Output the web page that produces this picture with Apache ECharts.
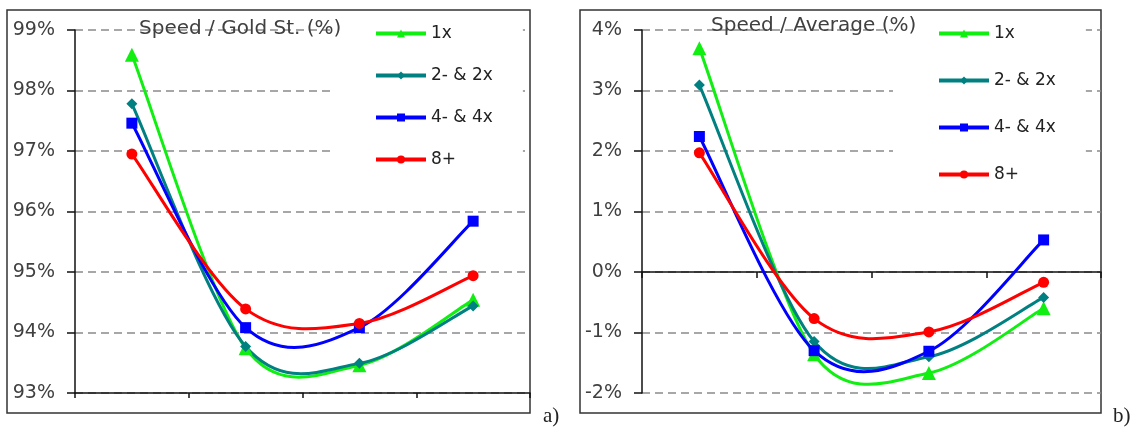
<!DOCTYPE html>
<html>
<head>
<meta charset="utf-8">
<script src="https://cdn.jsdelivr.net/npm/echarts@6/dist/echarts.min.js"></script>
<style>
  html, body { margin: 0; padding: 0; background: #fff; }
  #chart { width: 1140px; height: 430px; }
</style>
</head>
<body>
<div id="chart"></div>
<script>
// four groups along the x axis (no labels printed in the original)
const categories = ["G1", "G2", "G3", "G4"];
const seriesNames = ["1x", "2- & 2x", "4- & 4x", "8+"];

// panel a) speed / gold standard, in %
const goldOneX = [98.59, 93.74, 93.46, 94.54];
const goldTwoX = [97.78, 93.77, 93.49, 94.44];
const goldFourX = [97.46, 94.08, 94.08, 95.84];
const goldEightPlus = [96.95, 94.39, 94.15, 94.94];

// panel b) speed / average, in %
const avgOneX = [3.7, -1.36, -1.67, -0.6];
const avgTwoX = [3.09, -1.15, -1.4, -0.42];
const avgFourX = [2.24, -1.3, -1.31, 0.53];
const avgEightPlus = [1.97, -0.77, -0.99, -0.17];

// y tick range for both panels
const goldTicks = [93, 94, 95, 96, 97, 98, 99];
const avgTicks = [-2, -1, 0, 1, 2, 3, 4];

const colors = ["#11ee11", "#008080", "#0000ff", "#ff0000"];
const symbols = ["triangle", "diamond", "rect", "circle"];
const symbolSizes = [14, 11, 11, 11];

const font = "DejaVu Sans";

// Excel style smoothed segment: Catmull-Rom with 1/6 tension, control
// vector limited to half the shorter neighbouring segment
const controlVector = (prev, cur, next) => {
  const dx = next[0] - prev[0];
  const dy = next[1] - prev[1];
  const d02 = Math.hypot(dx, dy);
  if (d02 === 0) return [0, 0];
  const lens = [Math.hypot(cur[0] - prev[0], cur[1] - prev[1]),
    Math.hypot(next[0] - cur[0], next[1] - cur[1])].filter((d) => d > 0);
  let f = 1 / 6;
  const limit = Math.min(...lens) / 2;
  if (d02 * f > limit) f = limit / d02;
  return [dx * f, dy * f];
};

const smoothRenderer = (color) => (params, api) => {
  const i = params.dataIndexInside;
  const n = params.dataInsideLength;
  if (i >= n - 1) return null;
  const pt = (k) => api.coord([api.value(0, k), api.value(1, k)]);
  const p0 = pt(Math.max(i - 1, 0));
  const p1 = pt(i);
  const p2 = pt(i + 1);
  const p3 = pt(Math.min(i + 2, n - 1));
  const v1 = controlVector(p0, p1, p2);
  const v2 = controlVector(p1, p2, p3);
  return {
    type: "bezierCurve",
    silent: true,
    shape: {
      x1: p1[0], y1: p1[1],
      cpx1: p1[0] + v1[0], cpy1: p1[1] + v1[1],
      cpx2: p2[0] - v2[0], cpy2: p2[1] - v2[1],
      x2: p2[0], y2: p2[1],
    },
    style: { stroke: color, lineWidth: 3, fill: null, lineCap: "round" },
  };
};

// markers (line series, drawn first so the legend takes its look from them)
// plus the smoothed curve as a custom series with the same name
const buildSeries = (valuesList, axisIndex) => {
  const out = [];
  valuesList.forEach((values, k) => {
    out.push({
      type: "line",
      name: seriesNames[k],
      xAxisIndex: axisIndex,
      yAxisIndex: axisIndex,
      data: values,
      symbol: symbols[k],
      symbolSize: symbolSizes[k],
      showSymbol: true,
      itemStyle: { color: colors[k] },
      lineStyle: { width: 0, color: colors[k] },
      z: 3,
    });
  });
  valuesList.forEach((values, k) => {
    out.push({
      type: "custom",
      name: seriesNames[k],
      xAxisIndex: axisIndex,
      yAxisIndex: axisIndex,
      data: values.map((v, i) => [i, v]),
      renderItem: smoothRenderer(colors[k]),
      itemStyle: { color: colors[k] },
      z: 2,
    });
  });
  return out;
};

const yAxisBase = (ticks, gridIndex) => ({
  type: "value",
  gridIndex,
  min: ticks[0],
  max: ticks[ticks.length - 1],
  interval: ticks[1] - ticks[0],
  axisLine: { show: true, lineStyle: { color: "#111", width: 1.5 } },
  axisTick: { show: true, length: 8, lineStyle: { color: "#111", width: 1.5 } },
  axisLabel: {
    formatter: "{value}%",
    margin: 20,
    color: "#404040",
    fontFamily: font,
    fontSize: 19,
  },
  splitLine: {
    lineStyle: { color: "#8a8a8a", type: [8, 5], width: 1.5 },
  },
});

const xAxisBase = (gridIndex, tickLen) => ({
  type: "category",
  gridIndex,
  data: categories,
  boundaryGap: true,
  axisLine: { lineStyle: { color: "#111", width: 1.5 } },
  axisTick: { show: true, length: tickLen, lineStyle: { color: "#111", width: 1.5 } },
  axisLabel: { show: false },
});

const legendBase = (left, gap) => ({
  orient: "vertical",
  left,
  top: 15,
  padding: [10, 30, 20, 44],
  backgroundColor: "#fff",
  itemWidth: 50,
  itemHeight: 10,
  itemGap: gap,
  data: seriesNames,
  lineStyle: { width: 4 },
  textStyle: { fontFamily: font, fontSize: 17, color: "#222", lineHeight: 16 },
  selectedMode: false,
});

const option = {
  animation: false,
  backgroundColor: "#fff",
  color: colors,
  title: [
    {
      text: "Speed / Gold St. (%)",
      left: 139,
      top: 19,
      padding: 0,
      textStyle: { fontFamily: font, fontSize: 20, fontWeight: "normal", color: "#404040" },
    },
    {
      text: "Speed / Average (%)",
      left: 711,
      top: 16,
      padding: 0,
      textStyle: { fontFamily: font, fontSize: 20, fontWeight: "normal", color: "#404040" },
    },
  ],
  legend: [legendBase(330, 25), legendBase(893, 30)],
  grid: [
    { left: 75, top: 30, width: 455, height: 363 },
    { left: 642, top: 30, width: 459, height: 363 },
  ],
  xAxis: [xAxisBase(0, 5), xAxisBase(1, 6)],
  yAxis: [yAxisBase(goldTicks, 0), yAxisBase(avgTicks, 1)],
  series: [
    ...buildSeries([goldOneX, goldTwoX, goldFourX, goldEightPlus], 0),
    ...buildSeries([avgOneX, avgTwoX, avgFourX, avgEightPlus], 1),
  ],
  graphic: [
    {
      type: "rect",
      shape: { x: 7, y: 10, width: 523, height: 403 },
      style: { fill: null, stroke: "#333", lineWidth: 1.5 },
      z: 0,
      silent: true,
    },
    {
      type: "rect",
      shape: { x: 580, y: 10, width: 521, height: 403 },
      style: { fill: null, stroke: "#333", lineWidth: 1.5 },
      z: 0,
      silent: true,
    },
    {
      type: "text",
      x: 543,
      y: 406,
      style: { text: "a)", fontFamily: "Liberation Serif", fontSize: 21, fill: "#222" },
    },
    {
      type: "text",
      x: 1113,
      y: 406,
      style: { text: "b)", fontFamily: "Liberation Serif", fontSize: 21, fill: "#222" },
    },
  ],
};

const chart = echarts.init(document.getElementById("chart"), null, { renderer: "canvas" });
chart.setOption(option);
</script>
</body>
</html>
